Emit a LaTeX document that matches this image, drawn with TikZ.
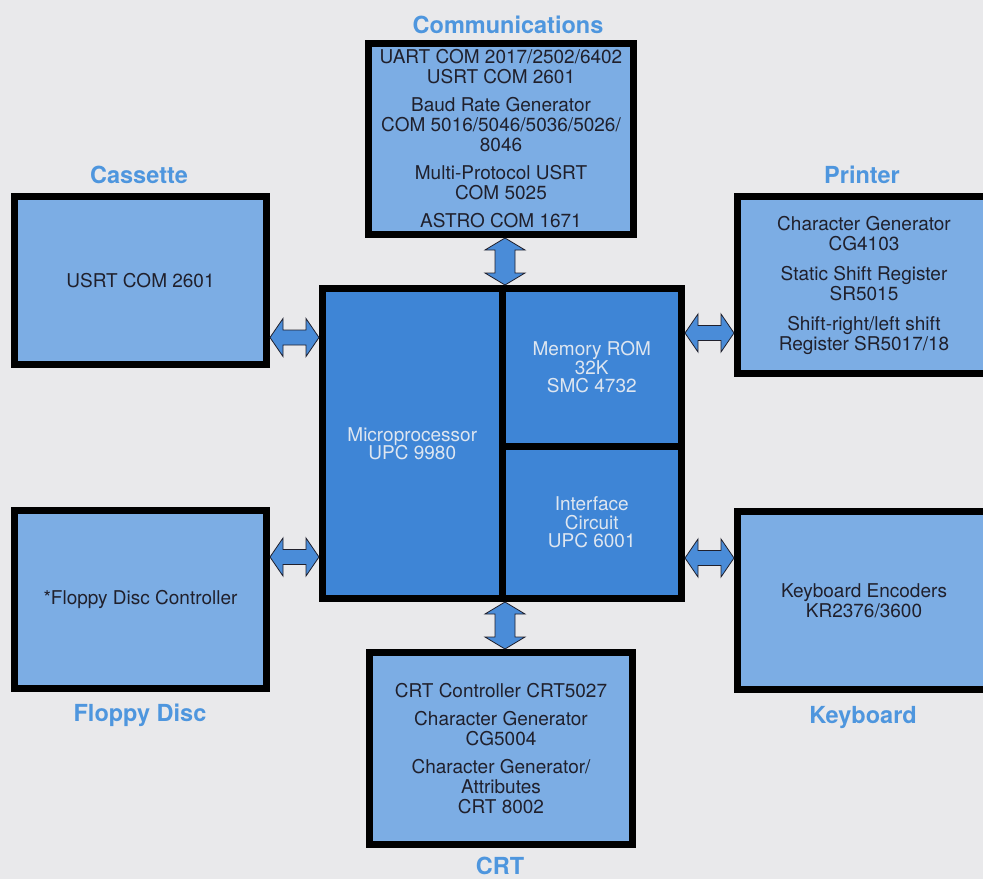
\documentclass[tikz,border=0pt]{standalone}
\usepackage{fontspec}
\setmainfont{TeX Gyre Heros}
\usetikzlibrary{calc}
\definecolor{pagebg}{RGB}{233,233,235}
\definecolor{chipblue}{RGB}{124,173,228}
\definecolor{cpublue}{RGB}{62,133,214}
\definecolor{headblue}{RGB}{78,150,222}
\definecolor{busblue}{RGB}{74,140,216}
\definecolor{inkdark}{RGB}{32,32,44}
\definecolor{inklight}{RGB}{222,230,240}
% block arrows between two tip coordinates
\newcommand{\hbus}[2]{\draw[bus] (#1) -- ++(13,-19) -- ++(0,11.5) -- ($(#2)+(-13,-7.5)$) -- ++(0,-11.5) -- (#2) -- ++(-13,19) -- ++(0,-11.5) -- ($(#1)+(13,7.5)$) -- ++(0,11.5) -- cycle;}
\newcommand{\vbus}[2]{\draw[bus] (#1) -- ++(20,12) -- ++(-10,0) -- ($(#2)+(10,-12)$) -- ++(10,0) -- (#2) -- ++(-20,-12) -- ++(10,0) -- ($(#1)+(-10,12)$) -- ++(-10,0) -- cycle;}
\begin{document}
\begin{tikzpicture}[x=1pt, y=-1pt,
  chip/.style={shape=rectangle, draw=black, line width=7pt, fill=chipblue, inner sep=0pt, align=center, text=inkdark, font=\fontsize{19}{20}\selectfont},
  cpu/.style={shape=rectangle, draw=black, line width=7pt, fill=cpublue, inner sep=0pt, align=center, text=inklight, font=\fontsize{19}{18.5}\selectfont},
  heading/.style={anchor=base, text=headblue, font=\fontsize{23.5}{26}\selectfont\bfseries},
  bus/.style={draw=inkdark, line width=0.8pt, fill=busblue, line join=miter}]
\useasboundingbox (0,0) rectangle (983,879);
\clip (0,0) rectangle (983,879);
\fill[pagebg] (0,0) rectangle (983,879);

\node[chip, minimum width=265pt, minimum height=191pt] (comm) at (501,139) {UART COM 2017/2502/6402\\USRT COM 2601\\[8pt]Baud Rate Generator\\COM 5016/5046/5036/5026/\\8046\\[8pt]Multi-Protocol USRT\\COM 5025\\[8pt]ASTRO COM 1671};
\node[chip, minimum width=252pt, minimum height=168pt] (cas) at (140.5,280.5) {USRT COM 2601};
\node[chip, minimum width=253pt, minimum height=177pt] (prn) at (864,285) {Character Generator\\CG4103\\[10pt]Static Shift Register\\SR5015\\[10pt]Shift-right/left shift\\Register SR5017/18};
\node[chip, minimum width=252pt, minimum height=178pt] (flop) at (140.5,599.5) {*Floppy Disc Controller};
\node[chip, minimum width=253pt, minimum height=178pt] (kbd) at (864,600.5) {Keyboard Encoders\\KR2376/3600};
\node[chip, minimum width=263pt, minimum height=192pt] (crt) at (501,748.5) {CRT Controller CRT5027\\[8pt]Character Generator\\CG5004\\[8pt]Character Generator/\\Attributes\\CRT 8002};

\node[cpu, minimum width=179.5pt, minimum height=310pt] (micro) at (412.25,443.5) {Microprocessor\\UPC 9980};
\node[cpu, minimum width=179.5pt, minimum height=157.5pt] (mem) at (591.75,367.25) {Memory ROM\\32K\\SMC 4732};
\node[cpu, minimum width=179.5pt, minimum height=152.5pt] (iface) at (591.75,522.25) {Interface\\Circuit\\UPC 6001};

\node[heading] (tcomm) at (508,33) {Communications};
\node[heading] (tcas) at (139,183) {Cassette};
\node[heading] (tprn) at (862,183) {Printer};
\node[heading] (tflop) at (140,721) {Floppy Disc};
\node[heading] (tkbd) at (863,723) {Keyboard};
\node[heading] (tcrt) at (500,874) {CRT};

\coordinate (buscol) at (505,0);
\coordinate (rowcas) at (0,337.5);
\coordinate (rowflop) at (0,557);
\coordinate (rowprn) at (0,333);
\coordinate (rowkbd) at (0,558);

\hbus{cas.east |- rowcas}{micro.west |- rowcas}
\hbus{flop.east |- rowflop}{micro.west |- rowflop}
\hbus{mem.east |- rowprn}{prn.west |- rowprn}
\hbus{iface.east |- rowkbd}{kbd.west |- rowkbd}
\vbus{comm.south -| buscol}{micro.north -| buscol}
\vbus{micro.south -| buscol}{crt.north -| buscol}
\end{tikzpicture}
\end{document}
